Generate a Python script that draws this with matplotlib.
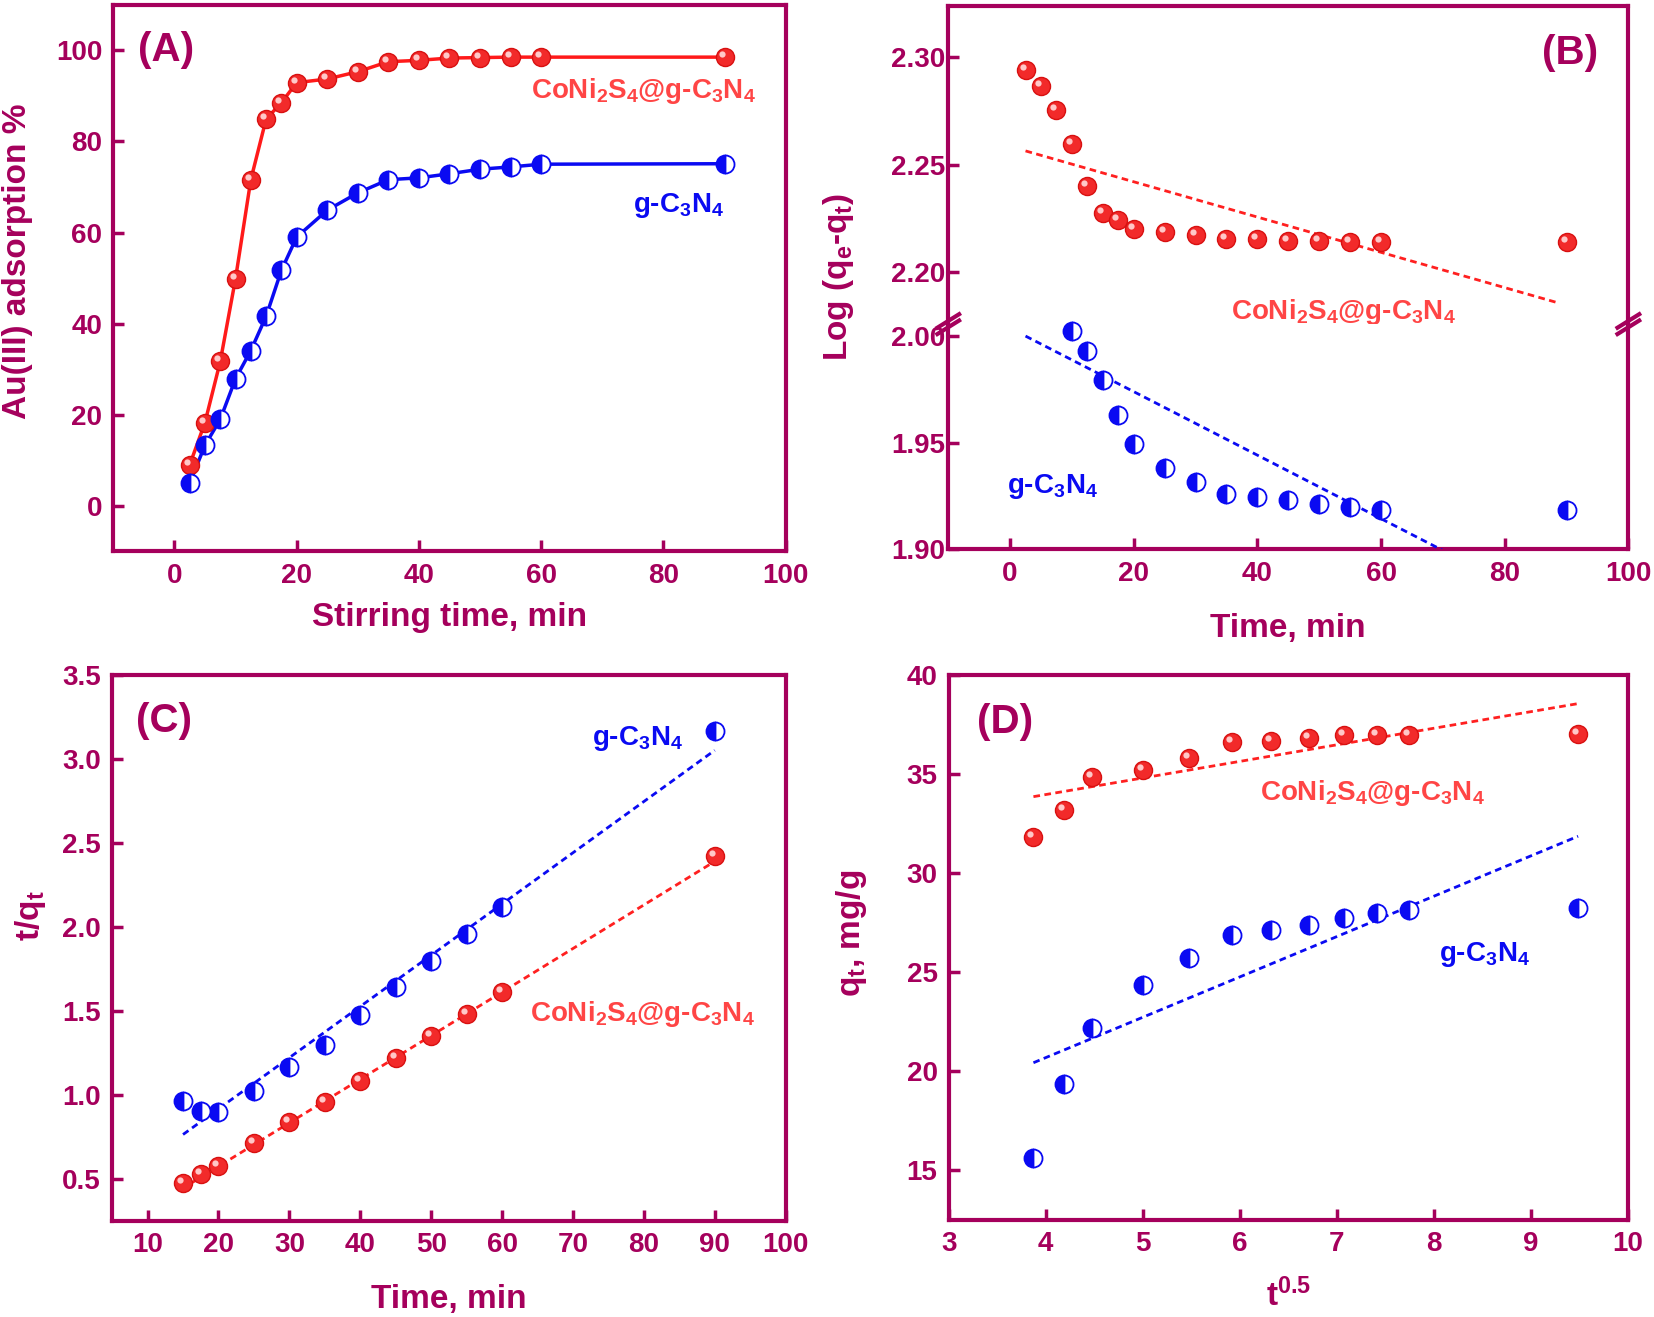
import matplotlib
matplotlib.use("Agg")
import matplotlib.pyplot as plt
import matplotlib.transforms as mtransforms
import numpy as np

plt.rcParams['font.family'] = ['Liberation Sans', 'DejaVu Sans']
plt.rcParams['font.weight'] = 'bold'
plt.rcParams['mathtext.fontset'] = 'custom'
plt.rcParams['mathtext.rm'] = 'Liberation Sans:bold'
plt.rcParams['mathtext.it'] = 'Liberation Sans:bold'
plt.rcParams['mathtext.bf'] = 'Liberation Sans:bold'
plt.rcParams['mathtext.default'] = 'rm'

FRAME = '#A5005C'
RED = '#F22A2A'
RED_TXT = '#FF4545'
BLUE = '#0A0AF2'

label_cn = r'CoNi$_2$S$_4$@g-C$_3$N$_4$'
label_g = r'g-C$_3$N$_4$'

# (A) adsorption vs stirring time
time_a = [2.5, 5, 7.5, 10, 12.5, 15, 17.5, 20, 25, 30, 35, 40, 45, 50, 55, 60, 90]
ads_cn = [9.0, 18.3, 31.7, 49.9, 71.6, 84.9, 88.5, 92.9, 93.7, 95.3, 97.5, 97.8, 98.3, 98.4, 98.5, 98.5, 98.5]
ads_g = [5.0, 13.3, 19.0, 27.9, 34.1, 41.6, 51.7, 59.0, 64.9, 68.7, 71.6, 72.0, 72.9, 73.9, 74.4, 75.0, 75.1]

# (B) pseudo-first-order
time_b_cn = [2.5, 5, 7.5, 10, 12.5, 15, 17.5, 20, 25, 30, 35, 40, 45, 50, 55, 60, 90]
log_cn = [2.2941, 2.2866, 2.2753, 2.2595, 2.2399, 2.2275, 2.2240, 2.2198, 2.2185, 2.2172,
          2.2154, 2.2152, 2.2145, 2.2143, 2.2141, 2.2141, 2.2141]
time_b_g = [10, 12.5, 15, 17.5, 20, 25, 30, 35, 40, 45, 50, 55, 60, 90]
log_g = [2.0026, 1.9930, 1.9796, 1.9630, 1.9496, 1.9383, 1.9315, 1.9259, 1.9244, 1.9231,
         1.9215, 1.9198, 1.9187, 1.9187]
fit_b_x = [2.5, 88.7]
fit_b_cn = [2.2564, 2.1855]
fit_b_g = [2.0000, 1.8717]

# (C) pseudo-second-order
time_c = [15, 17.5, 20, 25, 30, 35, 40, 45, 50, 55, 60, 90]
tq_g = [0.962, 0.905, 0.900, 1.026, 1.167, 1.300, 1.474, 1.641, 1.800, 1.962, 2.121, 3.172]
tq_cn = [0.474, 0.528, 0.577, 0.713, 0.841, 0.956, 1.085, 1.218, 1.349, 1.485, 1.615, 2.426]
fit_c_x = [15, 90]
fit_c_g = [0.764, 3.054]
fit_c_cn = [0.444, 2.392]

# (D) intraparticle diffusion
sqrt_t = np.sqrt(time_c)
qt_cn = [31.83, 33.23, 34.86, 35.25, 35.84, 36.62, 36.71, 36.86, 37.0, 37.0, 37.0, 37.04]
qt_g = [15.65, 19.36, 22.19, 24.36, 25.74, 26.87, 27.13, 27.39, 27.74, 28.02, 28.17, 28.24]
fit_d_x = [3.873, 9.487]
fit_d_cn = [33.88, 38.58]
fit_d_g = [20.44, 31.88]

fig = plt.figure(figsize=(16.54, 13.17), dpi=100)


def style(ax, pad=8):
    for s in ax.spines.values():
        s.set_color(FRAME)
        s.set_linewidth(3)
    ax.tick_params(direction='in', length=8, width=2.5, color=FRAME, labelcolor=FRAME,
                   labelsize=20, pad=pad, top=False, right=False)
    for lab in ax.get_xticklabels() + ax.get_yticklabels():
        lab.set_fontweight('bold')


def spheres(ax, x, y):
    ax.plot(x, y, 'o', ms=13, color=RED, mec='#D81010', mew=1, zorder=4, clip_on=False)
    hl = mtransforms.offset_copy(ax.transData, fig=fig, x=-3, y=3, units='dots')
    ax.plot(x, y, 'o', ms=4.5, color='#FFC8C8', mew=0, transform=hl, zorder=5, clip_on=False)


def halves(ax, x, y):
    ax.plot(x, y, 'o', ms=13, fillstyle='left', mfc=BLUE, mfcalt='white', mec=BLUE,
            mew=1.3, zorder=4, clip_on=False)


def fitline(ax, x, y, c):
    ax.plot(x, y, color=c, lw=2, ls=(0, (2.4, 1.6)), zorder=3)


def xlab(ax, text, y):
    ax.set_xlabel(text, fontsize=24, fontweight='bold', color=FRAME)
    ax.xaxis.set_label_coords(0.5, y)
    ax.xaxis.label.set_va('center')


def ylab(ax, text, x, y):
    ax.set_ylabel(text, fontsize=24, fontweight='bold', color=FRAME)
    ax.yaxis.set_label_coords(x, y)
    ax.yaxis.label.set_va('center')


def note(ax, x, y, text, c, size=20):
    ax.text(x, y, text, color=c, fontsize=size, fontweight='bold', ha='left', va='center')


# ---- A ----
axA = fig.add_axes([0.0685, 0.5813, 0.4065, 0.4151])
axA.plot(time_a, ads_cn, '-', color='#FF1A1A', lw=2.5, zorder=2)
axA.plot(time_a, ads_g, '-', color=BLUE, lw=2.5, zorder=2)
spheres(axA, time_a, ads_cn)
halves(axA, time_a, ads_g)
axA.set_xlim(-10, 100)
axA.set_ylim(-10, 110)
axA.set_xticks(np.arange(0, 101, 20))
axA.set_yticks(np.arange(0, 101, 20))
style(axA)
xlab(axA, 'Stirring time, min', -0.12)
ylab(axA, 'Au(III) adsorption %', -0.142, 0.53)
note(axA, -6.0, 100, '(A)', FRAME, 29)
note(axA, 58.3, 91.1, label_cn, RED_TXT)
note(axA, 75.0, 65.9, label_g, BLUE)

# ---- B (broken axis) ----
axBu = fig.add_axes([0.5733, 0.7540, 0.4112, 0.2415])
axBl = fig.add_axes([0.5733, 0.5828, 0.4112, 0.1711], sharex=axBu)
for ax in (axBu, axBl):
    fitline(ax, fit_b_x, fit_b_cn, '#FF2020')
    fitline(ax, fit_b_x, fit_b_g, BLUE)
spheres(axBu, time_b_cn, log_cn)
halves(axBl, time_b_g, log_g)
axBu.set_ylim(2.1757, 2.324)
axBl.set_ylim(1.90, 2.0056)
axBl.set_xlim(-10, 100)
axBl.set_xticks(np.arange(0, 101, 20))
axBu.set_yticks([2.20, 2.25, 2.30])
axBl.set_yticks([1.90, 1.95, 2.00])
axBu.yaxis.set_major_formatter('{x:.2f}')
axBl.yaxis.set_major_formatter('{x:.2f}')
style(axBu, pad=2)
style(axBl, pad=2)
axBl.tick_params(axis='x', pad=8)
axBu.tick_params(axis='x', bottom=False, labelbottom=False)
axBu.spines['bottom'].set_visible(False)
axBl.spines['top'].set_visible(False)
xlab(axBl, 'Time, min', -0.35)
fig.text(0.507, 0.7897, r'Log (q$_e$-q$_t$)', rotation=90, fontsize=24, fontweight='bold',
         color=FRAME, ha='center', va='center')
note(axBu, 86.0, 2.302, '(B)', FRAME, 29)
note(axBu, 35.7, 2.1813, label_cn, RED_TXT)
note(axBl, -0.45, 1.9296, label_g, BLUE)
for xa in (0, 1):
    for dy in (-0.014, 0.014):
        axBl.plot([xa - 0.016, xa + 0.016], [1 + dy - 0.03, 1 + dy + 0.03],
                  transform=axBl.transAxes, color=FRAME, lw=3, clip_on=False, zorder=6)

# ---- C ----
axC = fig.add_axes([0.0678, 0.0731, 0.4072, 0.4140])
fitline(axC, fit_c_x, fit_c_g, BLUE)
fitline(axC, fit_c_x, fit_c_cn, '#FF2020')
halves(axC, time_c, tq_g)
spheres(axC, time_c, tq_cn)
axC.set_xlim(5, 100)
axC.set_ylim(0.25, 3.5)
axC.set_xticks(np.arange(10, 101, 10))
axC.set_yticks(np.arange(0.5, 3.51, 0.5))
axC.yaxis.set_major_formatter('{x:.1f}')
style(axC)
xlab(axC, 'Time, min', -0.144)
ylab(axC, r't/q$_t$', -0.121, 0.559)
note(axC, 8.4, 3.226, '(C)', FRAME, 29)
note(axC, 72.7, 3.123, label_g, BLUE)
note(axC, 64.0, 1.482, label_cn, RED_TXT)

# ---- D ----
axD = fig.add_axes([0.5736, 0.0737, 0.4106, 0.4134])
fitline(axD, fit_d_x, fit_d_cn, '#FF2020')
fitline(axD, fit_d_x, fit_d_g, BLUE)
spheres(axD, sqrt_t, qt_cn)
halves(axD, sqrt_t, qt_g)
axD.set_xlim(3, 10)
axD.set_ylim(12.5, 40)
axD.set_xticks(np.arange(3, 11, 1))
axD.set_yticks(np.arange(15, 41, 5))
style(axD)
xlab(axD, r't$^{0.5}$', -0.139)
ylab(axD, r'q$_t$, mg/g', -0.143, 0.526)
note(axD, 3.29, 37.65, '(D)', FRAME, 29)
note(axD, 6.21, 34.05, label_cn, RED_TXT)
note(axD, 8.05, 25.89, label_g, BLUE)

fig.savefig('out.png', dpi=100)
